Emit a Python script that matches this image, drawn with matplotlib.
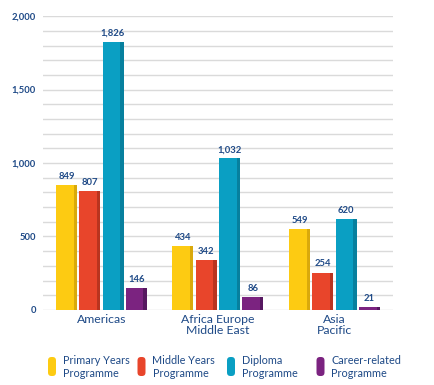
import numpy as np
import matplotlib.pyplot as plt
from matplotlib.patches import FancyBboxPatch

regions = ['Americas', 'Africa Europe\nMiddle East', 'Asia\nPacific']
programmes = ['Primary Years\nProgramme', 'Middle Years\nProgramme',
              'Diploma\nProgramme', 'Career-related\nProgramme']
values = {
    'PYP': [849, 434, 549],
    'MYP': [807, 342, 254],
    'DP': [1826, 1032, 620],
    'CP': [146, 86, 21],
}
colors = ['#FDCB12', '#E8452B', '#0A9FC3', '#7B2380']
shades = ['#D9A90C', '#B9341F', '#07809E', '#561860']
text_blue = '#1F4A87'

plt.rcParams['font.family'] = ['Lato', 'DejaVu Sans']

fig = plt.figure(figsize=(4.35, 3.85), dpi=100)
ax = fig.add_axes([0.099, 0.195, 0.804, 0.763])

x = np.arange(len(regions))
width = 0.18
offsets = [-0.3, -0.1, 0.1, 0.3]

for i, key in enumerate(values):
    vals = values[key]
    ax.bar(x + offsets[i], vals, width, color=colors[i], zorder=3)
    # darker strip on right side of each bar
    ax.bar(x + offsets[i] + width * 0.42, vals, width * 0.16, color=shades[i], zorder=3)
    for xi, v in zip(x + offsets[i], vals):
        ax.annotate(f'{v:,}', (xi, v), xytext=(0, 3), textcoords='offset points',
                    ha='center', va='bottom', fontsize=6.8, fontweight='bold',
                    color=text_blue)

ax.set_xlim(-0.5, 2.5)
ax.set_ylim(0, 2000)
ax.set_yticks(np.arange(0, 2001, 100), minor=True)
ax.set_yticks([0, 500, 1000, 1500, 2000])
ax.set_yticklabels(['0', '500', '1,000', '1,500', '2,000'], fontsize=6.8,
                   fontweight='bold', color=text_blue)
ax.grid(True, axis='y', which='both', color='#DADADA', linewidth=1, zorder=0)
ax.set_xticks(x)
ax.set_xticklabels(regions, fontsize=8.8, color=text_blue, linespacing=1.0)
ax.tick_params(axis='both', which='both', length=0)
ax.tick_params(axis='y', pad=5)
ax.tick_params(axis='x', pad=3)
for s in ax.spines.values():
    s.set_visible(False)

# legend drawn by hand in figure pixels
W, H = 435, 385
for i, (lab, c) in enumerate(zip(programmes, colors)):
    px = 48 + i * 89.5
    fig.patches.append(FancyBboxPatch((px / W, 9 / H), 8 / W, 19 / H,
                                      boxstyle='round,pad=0,rounding_size=0.008',
                                      mutation_aspect=W / H,
                                      transform=fig.transFigure,
                                      facecolor=c, edgecolor='none'))
    fig.text((px + 15) / W, 18 / H, lab, fontsize=7.8, color=text_blue,
             ha='left', va='center', linespacing=1.15)

fig.savefig('out.png', dpi=100)
